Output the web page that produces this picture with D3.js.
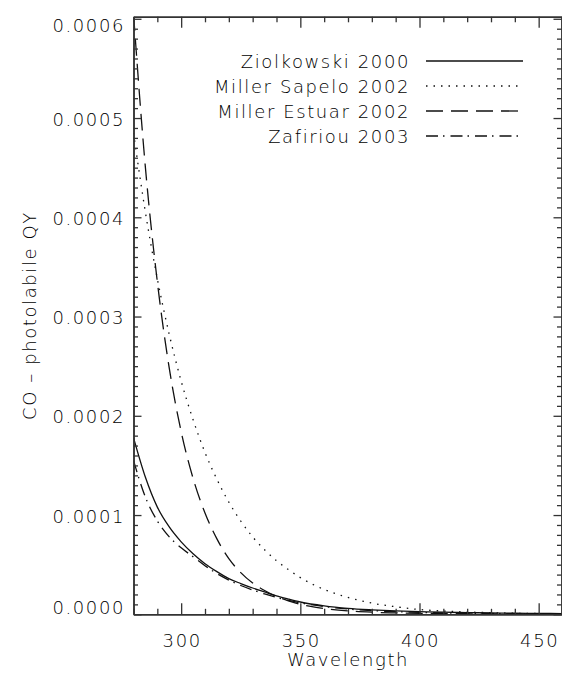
<!DOCTYPE html>
<html>
<head>
<meta charset="utf-8">
<script src="https://cdn.jsdelivr.net/npm/d3@7"></script>
<style>
  body { margin: 0; background: #fff; }
  svg text { font-family: "DejaVu Sans", sans-serif; font-size: 18px; font-weight: 300; fill: #000; letter-spacing: 1.6px; }
</style>
</head>
<body>
<svg id="chart" width="562" height="678"></svg>
<script>
// wavelengths (nm)
var wavelength = [280, 285, 290, 295, 300, 305, 310, 315, 320, 325, 330, 335, 340, 345, 350,
                  360, 370, 380, 390, 400, 410, 420, 430, 440, 450, 460];
// CO photolability quantum yields (x 1e-6)
var ziolkowski2000 = [178, 138, 108, 88, 73, 61, 51, 43, 36, 31, 26.5, 22.5, 18.5, 15.3, 12.4,
                      8.5, 6, 4.5, 3.4, 2.7, 2.1, 1.7, 1.4, 1.1, 0.9, 0.7];
var millerSapelo2002 = [485, 405, 338, 282, 235, 196, 163, 136, 113, 94, 78, 65, 54, 45, 37,
                        25, 17, 11.3, 7.6, 4.8, 3.3, 2.3, 1.6, 1.1, 0.8, 0.6];
var millerEstuar2002 = [605, 450, 335, 248, 184, 137, 102, 76, 56, 42, 31.5, 24, 18, 13.5, 10,
                        5.8, 3.4, 2.1, 1.4, 1.0, 0.7, 0.5, 0.4, 0.3, 0.25, 0.2];
var zafiriou2003 = [155, 118, 94, 78, 67, 58, 49, 41, 34.5, 29, 24.5, 20.5, 17, 14, 11.5,
                    7.8, 5.3, 3.7, 2.6, 1.9, 1.4, 1.0, 0.8, 0.6, 0.5, 0.4];

var seriesNames = ["Ziolkowski 2000", "Miller Sapelo 2002", "Miller Estuar 2002", "Zafiriou 2003"];
var seriesData = [ziolkowski2000, millerSapelo2002, millerEstuar2002, zafiriou2003];
var dashes = [null, "1.5,6", "17,8", "12,5,1.5,6"];

var xTicks = [300, 350, 400, 450];
var yTicks = [0, 0.0001, 0.0002, 0.0003, 0.0004, 0.0005, 0.0006];

var svg = d3.select("#chart");
var pLeft = 133.5, pRight = 562.5, pTop = 16.8, pBottom = 614.3;

var x = d3.scaleLinear().domain([280, 460]).range([pLeft, pRight]);
var y = d3.scaleLinear().domain([0, 0.000602]).range([pBottom, pTop]);

svg.append("clipPath").attr("id", "clip")
  .append("rect").attr("x", pLeft).attr("y", pTop)
  .attr("width", pRight - pLeft).attr("height", pBottom - pTop);

// curves
var line = d3.line()
  .x(function(d) { return x(d[0]); })
  .y(function(d) { return y(d[1] * 1e-6); })
  .curve(d3.curveMonotoneX);

seriesData.forEach(function(s, i) {
  var pts = wavelength.map(function(w, j) { return [w, s[j]]; });
  svg.append("path")
    .attr("clip-path", "url(#clip)")
    .attr("d", line(pts))
    .attr("fill", "none")
    .attr("stroke", "#111")
    .attr("stroke-width", 1.3)
    .attr("stroke-dasharray", dashes[i]);
});

// axes
var minorX = d3.range(280, 461, 10).filter(function(v) { return v % 50 != 0; });
var minorY = d3.range(0, 61).filter(function(v) { return v % 10 != 0; })
  .map(function(v) { return v * 0.00001; });

function styleAxis(g) {
  g.selectAll("path.domain").attr("stroke", "#333").attr("stroke-width", 1.5);
  g.selectAll(".tick line").attr("stroke", "#333").attr("stroke-width", 1.3);
  g.selectAll("text").remove();
}

// bottom
svg.append("g").attr("transform", "translate(0," + pBottom + ")")
  .call(d3.axisBottom(x).tickValues(xTicks).tickSizeInner(-11).tickSizeOuter(0))
  .call(styleAxis);
svg.append("g").attr("transform", "translate(0," + pBottom + ")")
  .call(d3.axisBottom(x).tickValues(minorX).tickSizeInner(-5.5).tickSizeOuter(0))
  .call(styleAxis);
// top
svg.append("g").attr("transform", "translate(0," + pTop + ")")
  .call(d3.axisTop(x).tickValues(xTicks).tickSizeInner(-11).tickSizeOuter(0))
  .call(styleAxis);
svg.append("g").attr("transform", "translate(0," + pTop + ")")
  .call(d3.axisTop(x).tickValues(minorX).tickSizeInner(-5.5).tickSizeOuter(0))
  .call(styleAxis);
// left
svg.append("g").attr("transform", "translate(" + pLeft + ",0)")
  .call(d3.axisLeft(y).tickValues(yTicks).tickSizeInner(-8).tickSizeOuter(0))
  .call(styleAxis);
svg.append("g").attr("transform", "translate(" + pLeft + ",0)")
  .call(d3.axisLeft(y).tickValues(minorY).tickSizeInner(-4.5).tickSizeOuter(0))
  .call(styleAxis);
// right
svg.append("g").attr("transform", "translate(" + (pRight - 1) + ",0)")
  .call(d3.axisRight(y).tickValues(yTicks).tickSizeInner(-8).tickSizeOuter(0))
  .call(styleAxis);
svg.append("g").attr("transform", "translate(" + (pRight - 1) + ",0)")
  .call(d3.axisRight(y).tickValues(minorY).tickSizeInner(-4.5).tickSizeOuter(0))
  .call(styleAxis);

// tick labels
svg.selectAll(".xlab").data(xTicks).enter().append("text")
  .attr("x", function(d) { return x(d) + 1; })
  .attr("y", 647)
  .attr("text-anchor", "middle")
  .text(function(d) { return d; });

svg.selectAll(".ylab").data(yTicks).enter().append("text")
  .attr("x", 125)
  .attr("y", function(d, i) {
    var yy = y(d) + 7.5;
    if (i == 0) yy = pBottom;
    if (i == yTicks.length - 1) yy = y(d) + 13;
    return yy;
  })
  .attr("text-anchor", "end")
  .text(function(d) { return d3.format(".4f")(d); });

// axis titles
svg.append("text")
  .attr("x", 348).attr("y", 666)
  .attr("text-anchor", "middle")
  .text("Wavelength");

svg.append("text")
  .attr("transform", "translate(36," + ((pTop + pBottom) / 2) + ") rotate(-90)")
  .attr("text-anchor", "middle")
  .text("CO \u2013 photolabile QY");

// legend
seriesNames.forEach(function(name, i) {
  var by = 68 + i * 25;
  svg.append("text")
    .attr("x", 410).attr("y", by)
    .attr("text-anchor", "end")
    .text(name);
  svg.append("line")
    .attr("x1", 426).attr("x2", 523)
    .attr("y1", by - 7).attr("y2", by - 7)
    .attr("stroke", "#111")
    .attr("stroke-width", 1.3)
    .attr("stroke-dasharray", dashes[i]);
});
</script>
</body>
</html>
